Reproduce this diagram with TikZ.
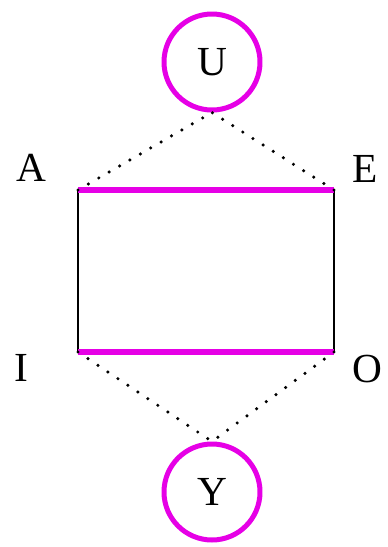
\documentclass[tikz,border=0pt]{standalone}
\usepackage{fontspec}
\setmainfont{Liberation Serif}
\usetikzlibrary{positioning}
\definecolor{vowelMag}{RGB}{230, 0, 230}

\begin{document}
\begin{tikzpicture}[x=0.75pt, y=-0.75pt, line join=round,
        ring/.style={circle, draw=vowelMag, line width=3.75pt, minimum size=72pt, inner sep=0pt, font=\fontsize{31}{31}\selectfont},
        letter/.style={inner sep=0pt, font=\fontsize{31}{31}\selectfont},
        dots/.style={line width=2.6pt, line cap=round, dash pattern=on 0pt off 9pt}]
    \useasboundingbox (0,0) rectangle (388,547);
    % corners of the square
    \coordinate (a) at (78,190);
    \coordinate (e) at (334,190);
    \coordinate (i) at (78,352);
    \coordinate (o) at (334,352);
    \node[letter] (la) at (31,168) {A};
    \node[letter] (le) at (365,169) {E};
    \node[letter] (li) at (21,368) {I};
    \node[letter] (lo) at (367,369) {O};
    \node[ring] (u) at (212,62) {U};
    \node[ring] (y) at (212,492) {Y};
    \draw[line width=1.5pt] (a) -- (i);
    \draw[line width=1.5pt] (e) -- (o);
    \draw[vowelMag, line width=5pt] (a) -- (e);
    \draw[vowelMag, line width=5pt] (i) -- (o);
    \draw[dots] (a) -- (u.south);
    \draw[dots] (e) -- (u.south);
    \draw[dots] (i) -- (y.north);
    \draw[dots] (o) -- (y.north);
\end{tikzpicture}
\end{document}
